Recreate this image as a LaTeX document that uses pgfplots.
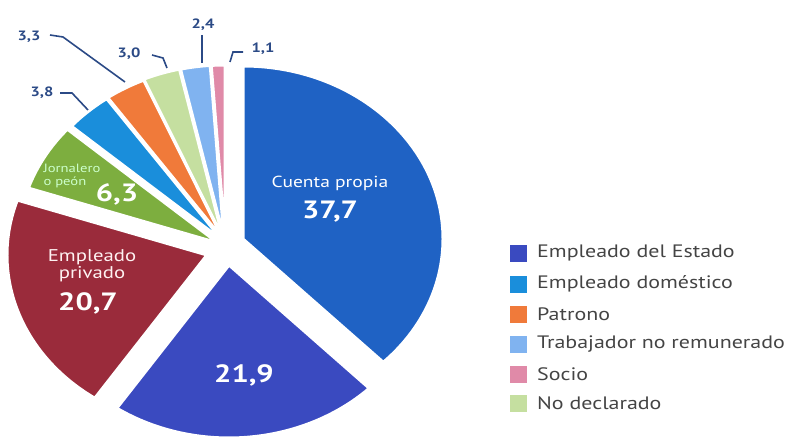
\documentclass[border=0pt]{standalone}
\usepackage{pgfplots}
\pgfplotsset{compat=1.18}
\usepackage{pgfplotstable}
\usepackage{fontspec}
\setmainfont[FakeStretch=1.22]{PT Sans}

\definecolor{cprop}{HTML}{1F62C4}
\definecolor{estado}{HTML}{3A4AC0}
\definecolor{privado}{HTML}{9A2B3B}
\definecolor{jornal}{HTML}{7DAE3F}
\definecolor{domest}{HTML}{1A8EDB}
\definecolor{patrono}{HTML}{F07A3A}
\definecolor{nodecl}{HTML}{C5DFA0}
\definecolor{trabnr}{HTML}{80B3F0}
\definecolor{socio}{HTML}{E08AA8}
\definecolor{lbl}{HTML}{2B4A86}
\definecolor{legtext}{HTML}{444444}

% share in %, colour, centre of the slice (x right, y down)
\pgfplotstableread{
share col cx cy
37.7 cprop 243 239
21.9 estado 229 265
20.7 privado 207 255
6.3 jornal 218 243
3.8 domest 222 240
3.3 patrono 223 239
3.0 nodecl 223 238
2.4 trabnr 224 238
1.1 socio 225 238
}\shares
\def\total{100.2}

\begin{document}
\begin{tikzpicture}
\begin{axis}[width=794pt, height=438pt, scale only axis,
  xmin=0, xmax=794, ymin=-438, ymax=0, hide axis, clip=false]

  % slices, clockwise from 12 o'clock
  \pgfplotsextra{
    \pgfplotstablegetrowsof{\shares}
    \pgfmathtruncatemacro\nrows{\pgfplotsretval-1}
    \xdef\cum{0}
    \foreach \i in {0,...,\nrows}{
      \pgfplotstablegetelem{\i}{share}\of\shares \let\slv\pgfplotsretval
      \pgfplotstablegetelem{\i}{col}\of\shares \let\slcol\pgfplotsretval
      \pgfplotstablegetelem{\i}{cx}\of\shares \let\slx\pgfplotsretval
      \pgfplotstablegetelem{\i}{cy}\of\shares \let\sly\pgfplotsretval
      \pgfmathsetmacro\angA{90-\cum}
      \pgfmathsetmacro\angB{90-\cum-\slv*360/\total}
      \fill[\slcol, draw=white, line width=3pt, line join=round]
        (axis cs:\slx,-\sly) -- ++(\angA:200pt and 173pt)
        arc[start angle=\angA, end angle=\angB, x radius=200pt, y radius=173pt]
        -- cycle;
      \pgfmathparse{\cum+\slv*360/\total}\xdef\cum{\pgfmathresult}
    }
  }

  % labels inside the slices
  \node[text=white, font=\fontsize{16}{19}\selectfont] at (axis cs:330,-183) {Cuenta propia};
  \node[text=white, font=\bfseries\fontsize{25}{30}\selectfont] at (axis cs:330,-212) {37,7};
  \node[text=white, font=\bfseries\fontsize{25}{30}\selectfont] at (axis cs:244,-375) {21,9};
  \node[text=white!80!pink, font=\fontsize{17}{17}\selectfont, align=center] at (axis cs:92,-266) {Empleado\\privado};
  \node[text=white, font=\bfseries\fontsize{25}{30}\selectfont] at (axis cs:88,-303) {20,7};
  \node[text=white!80!green, font=\fontsize{12}{13}\selectfont, align=left, anchor=west] at (axis cs:40,-176) {Jornalero\\o peón};
  \node[text=white, font=\bfseries\fontsize{25}{30}\selectfont] at (axis cs:117,-194) {6,3};

  % small shares with leader lines
  \begin{scope}[lbl, line width=1.6pt]
    \draw (axis cs:60,-93) -- (axis cs:72,-93) -- (axis cs:88,-110);
    \draw (axis cs:50,-35) -- (axis cs:63,-37) -- (axis cs:125,-82);
    \draw (axis cs:152,-55) -- (axis cs:163,-58) -- (axis cs:167,-68);
    \draw (axis cs:202,-35) -- (axis cs:202,-63);
    \draw (axis cs:243,-52) -- (axis cs:233,-52) -- (axis cs:230,-62);
  \end{scope}
  \begin{scope}[every node/.style={text=lbl, font=\bfseries\fontsize{13.5}{16}\selectfont}]
    \node at (axis cs:42,-93) {3,8};
    \node at (axis cs:29,-37) {3,3};
    \node at (axis cs:129,-54) {3,0};
    \node at (axis cs:203,-25) {2,4};
    \node at (axis cs:263,-49) {1,1};
  \end{scope}

  % legend
  \begin{scope}[every node/.style={anchor=west, text=legtext, font=\fontsize{18}{20}\selectfont, inner sep=0pt}]
    \fill[estado]  (axis cs:510,-245) rectangle (axis cs:527,-262);
    \node at (axis cs:537,-253) {Empleado del Estado};
    \fill[domest]  (axis cs:510,-276) rectangle (axis cs:527,-293);
    \node at (axis cs:537,-284) {Empleado doméstico};
    \fill[patrono] (axis cs:510,-306) rectangle (axis cs:527,-323);
    \node at (axis cs:537,-314) {Patrono};
    \fill[trabnr]  (axis cs:510,-336) rectangle (axis cs:527,-353);
    \node at (axis cs:537,-344) {Trabajador no remunerado};
    \fill[socio]   (axis cs:510,-366) rectangle (axis cs:527,-383);
    \node at (axis cs:537,-374) {Socio};
    \fill[nodecl]  (axis cs:510,-395) rectangle (axis cs:527,-412);
    \node at (axis cs:537,-403) {No declarado};
  \end{scope}
\end{axis}
\pgfresetboundingbox
\useasboundingbox (current axis.south west) rectangle (current axis.north east);
\end{tikzpicture}
\end{document}
